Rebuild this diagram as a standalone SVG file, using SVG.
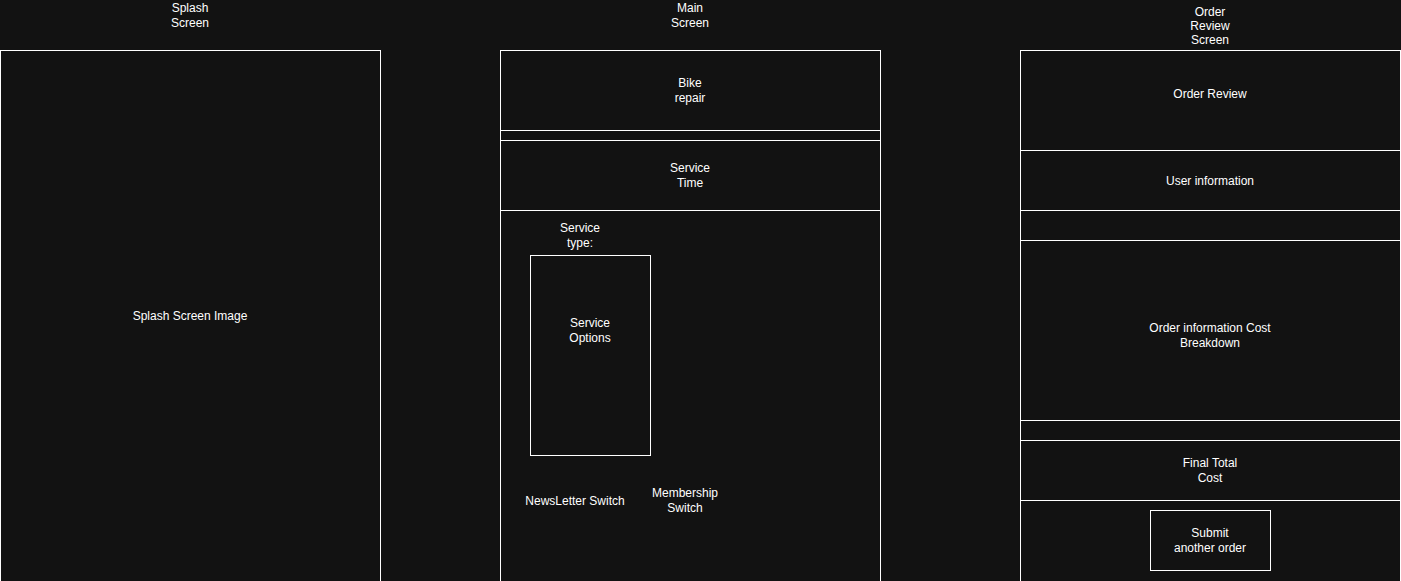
<svg xmlns="http://www.w3.org/2000/svg" width="1401" height="581" viewBox="0 0 1401 581">
<style>
rect.b{fill:#121212;stroke:#ffffff;stroke-width:1}
text{font-family:"Liberation Sans",Arial,Helvetica,sans-serif;font-size:12px;fill:#ffffff;text-anchor:middle}
</style>
<rect x="0" y="0" width="1401" height="581" fill="#121212"/>
<g id="labels">
<text x="190" y="12">Splash</text><text x="190" y="27">Screen</text>
<text x="690" y="12">Main</text><text x="690" y="27">Screen</text>
<text x="1210" y="16">Order</text><text x="1210" y="30">Review</text><text x="1210" y="44">Screen</text>
</g>
<g id="splash">
<rect class="b" x="0.5" y="50.5" width="380" height="560"/>
<text x="190" y="320">Splash Screen Image</text>
</g>
<g id="main">
<g id="bike"><rect class="b" x="500.5" y="50.5" width="380" height="80"/><text x="690" y="87">Bike</text><text x="690" y="102">repair</text></g>
<g id="gap1"><rect class="b" x="500.5" y="130.5" width="380" height="10"/></g>
<g id="time"><rect class="b" x="500.5" y="140.5" width="380" height="70"/><text x="690" y="172">Service</text><text x="690" y="187">Time</text></g>
<g id="body"><rect class="b" x="500.5" y="210.5" width="380" height="400"/>
<text x="580" y="232">Service</text><text x="580" y="247">type:</text></g>
<g id="options"><rect class="b" x="530.5" y="255.5" width="120" height="200"/><text x="590" y="327">Service</text><text x="590" y="342">Options</text></g>
<g id="newsletter"><text x="575" y="505">NewsLetter Switch</text></g>
<g id="membership"><text x="685" y="497">Membership</text><text x="685" y="512">Switch</text></g>
</g>
<g id="order">
<g id="review"><rect class="b" x="1020.5" y="50.5" width="380" height="100"/><text x="1210" y="98">Order Review</text></g>
<g id="user"><rect class="b" x="1020.5" y="150.5" width="380" height="60"/><text x="1210" y="185">User information</text></g>
<g id="gap2"><rect class="b" x="1020.5" y="210.5" width="380" height="30"/></g>
<g id="cost"><rect class="b" x="1020.5" y="240.5" width="380" height="180"/><text x="1210" y="332">Order information Cost</text><text x="1210" y="347">Breakdown</text></g>
<g id="gap3"><rect class="b" x="1020.5" y="420.5" width="380" height="20"/></g>
<g id="total"><rect class="b" x="1020.5" y="440.5" width="380" height="60"/><text x="1210" y="467">Final Total</text><text x="1210" y="482">Cost</text></g>
<g id="footer"><rect class="b" x="1020.5" y="500.5" width="380" height="110"/></g>
<g id="submit"><rect class="b" x="1150.5" y="510.5" width="120" height="60"/><text x="1210" y="537">Submit</text><text x="1210" y="552">another order</text></g>
</g>
<g id="connectors"/>
</svg>
